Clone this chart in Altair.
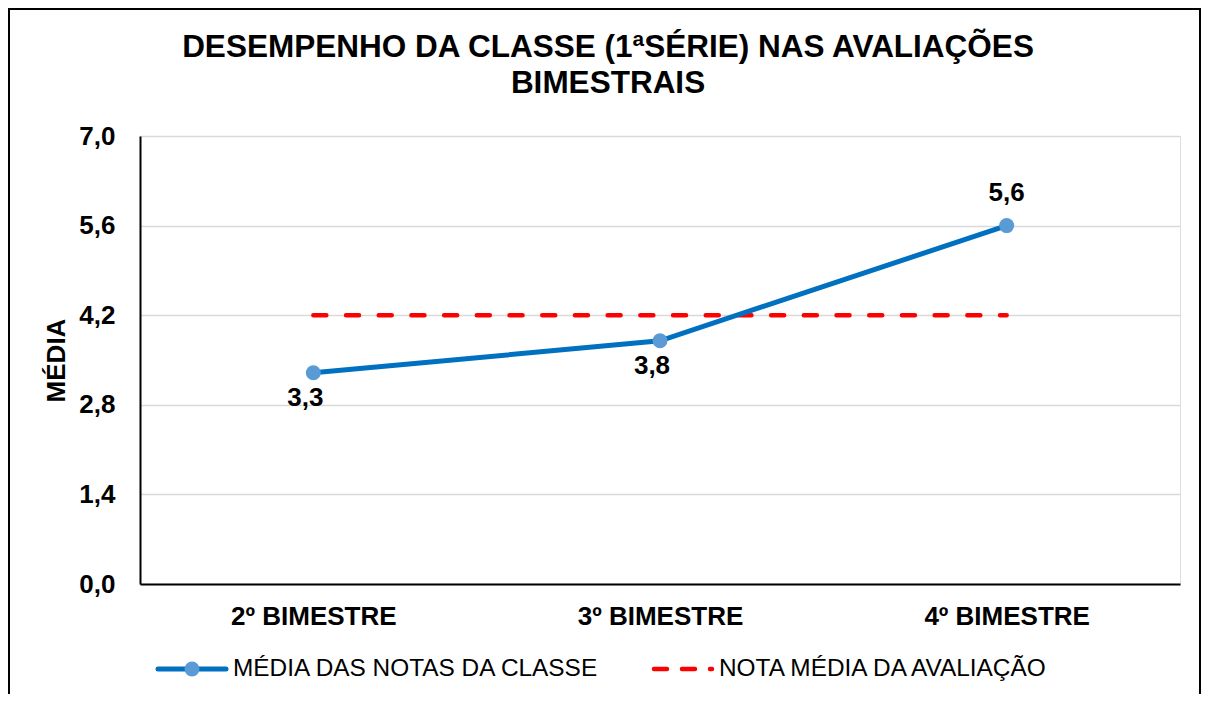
import altair as alt
import pandas as pd

categories = ["2º BIMESTRE", "3º BIMESTRE", "4º BIMESTRE"]
media_classe = [3.3, 3.8, 5.6]
nota_media = [4.2, 4.2, 4.2]
y_ticks = [0.0, 1.4, 2.8, 4.2, 5.6, 7.0]
label_pos = ["below", "below", "above"]

title_lines = ["DESEMPENHO DA CLASSE (1ªSÉRIE) NAS AVALIAÇÕES", "BIMESTRAIS"]
serie1 = "MÉDIA DAS NOTAS DA CLASSE"
serie2 = "NOTA MÉDIA DA AVALIAÇÃO"

FONT = "Liberation Sans"
BLUE = "#0070C0"
LBLUE = "#5B9BD5"
RED = "#FF0000"

df = pd.DataFrame({"cat": categories, "v": media_classe, "pos": label_pos})
df_ref = pd.DataFrame({"cat": categories, "v": nota_media})
one = pd.DataFrame({"k": [0]})

x_enc = alt.X("cat:N", sort=categories, title=None,
              scale=alt.Scale(type="point", padding=0.5),
              axis=alt.Axis(labelAngle=0, domainColor="black", domainWidth=2,
                            ticks=False, labelPadding=19, grid=False,
                            labelFont=FONT, labelFontSize=26, labelFontWeight="bold",
                            labelColor="black"))
y_enc = alt.Y("v:Q", scale=alt.Scale(domain=[0, 7], nice=False, zero=True),
              axis=alt.Axis(values=y_ticks, title="MÉDIA",
                            labelExpr="replace(format(datum.value, '.1f'), '.', ',')",
                            domainColor="black", domainWidth=2, ticks=False,
                            labelPadding=25, gridColor="#D9D9D9", gridWidth=1.5,
                            labelFont=FONT, labelFontSize=26, labelFontWeight="bold",
                            labelColor="black",
                            titleFont=FONT, titleFontSize=26, titleFontWeight="bold",
                            titleColor="black", titleAngle=270, titleX=-84, titleY=224,
                            titleAlign="center", titleBaseline="middle"))

ref_line = alt.Chart(df_ref).mark_line(
    color=RED, strokeWidth=4.5, strokeDash=[13, 19.7], strokeCap="round"
).encode(x=x_enc, y=y_enc)

main_line = alt.Chart(df).mark_line(
    color=BLUE, strokeWidth=5, strokeCap="round"
).encode(x=alt.X("cat:N", sort=categories), y="v:Q")

points = alt.Chart(df).mark_point(
    filled=True, shape="circle", size=225, color=LBLUE, opacity=1
).encode(x=alt.X("cat:N", sort=categories), y="v:Q")

lab_txt = "replace(format(datum.v, '.1f'), '.', ',')"
labels_below = alt.Chart(df).transform_filter("datum.pos == 'below'").transform_calculate(
    t=lab_txt
).mark_text(font=FONT, fontSize=26, fontWeight="bold", color="black",
            baseline="middle", dy=25, dx=-8).encode(
    x=alt.X("cat:N", sort=categories), y="v:Q", text="t:N")
labels_above = alt.Chart(df).transform_filter("datum.pos == 'above'").transform_calculate(
    t=lab_txt
).mark_text(font=FONT, fontSize=26, fontWeight="bold", color="black",
            baseline="middle", dy=-33).encode(
    x=alt.X("cat:N", sort=categories), y="v:Q", text="t:N")

# title (two lines)
title1 = alt.Chart(one).mark_text(font=FONT, fontSize=31.5, fontWeight="bold", color="black",
                                   align="center", baseline="middle",
                                   text=title_lines[0]).encode(
    x=alt.value(468), y=alt.value(-88))
title2 = alt.Chart(one).mark_text(font=FONT, fontSize=31.5, fontWeight="bold", color="black",
                                   align="center", baseline="middle",
                                   text=title_lines[1]).encode(
    x=alt.value(468), y=alt.value(-52))

# legend
leg_y = 533
leg1_line = alt.Chart(one).mark_rule(color=BLUE, strokeWidth=5, strokeCap="round").encode(
    x=alt.value(18), x2=alt.value(86), y=alt.value(leg_y))
leg1_pt = alt.Chart(one).mark_point(filled=True, shape="circle", size=225, color=LBLUE,
                                     opacity=1).encode(x=alt.value(52), y=alt.value(leg_y))
leg1_txt = alt.Chart(one).mark_text(font=FONT, fontSize=24.4, color="black", align="left",
                                     baseline="middle", text=serie1).encode(
    x=alt.value(93), y=alt.value(leg_y))
leg2_line = alt.Chart(one).mark_rule(color=RED, strokeWidth=4.5, strokeDash=[13, 15],
                                     strokeCap="round").encode(
    x=alt.value(514), x2=alt.value(572), y=alt.value(leg_y))
leg2_txt = alt.Chart(one).mark_text(font=FONT, fontSize=24.4, color="black", align="left",
                                     baseline="middle", text=serie2).encode(
    x=alt.value(579), y=alt.value(leg_y))

border = alt.Chart(one).mark_rect(fillOpacity=0, stroke="black", strokeWidth=2).encode(
    x=alt.value(-131), x2=alt.value(1060), y=alt.value(-127), y2=alt.value(575))

chart = alt.layer(
    ref_line, main_line, points, labels_below, labels_above,
    title1, title2,
    leg1_line, leg1_pt, leg1_txt, leg2_line, leg2_txt, border
).properties(
    width=1040, height=448,
    autosize=alt.AutoSizeParams(type="none"),
    padding={"left": 132, "top": 128, "right": 22, "bottom": 110},
).configure_view(stroke=None).configure(background="white")

chart.save("out.html", embed_options={"renderer": "svg", "actions": False})
